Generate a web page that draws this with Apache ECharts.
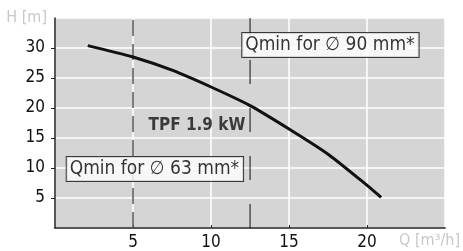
<html>
<head>
<meta charset="UTF-8">
<script src="https://cdn.jsdelivr.net/npm/echarts@6/dist/echarts.min.js"></script>
</head>
<body style="margin:0">
<div id="pumpChart" style="width:463px;height:251px"></div>
<script>
    // pump curve
    var flowQ = [2.1, 5, 7.5, 10, 12.5, 15, 17.5, 20, 20.9];
    var headH = [30.4, 28.5, 26.3, 23.5, 20.4, 16.5, 12.3, 7.1, 5.1];

    // Qmin markers (vertical dashed lines)
    var qmin63 = 5;
    var qmin90 = 12.5;

    // annotation texts and where they sit (data coords)
    var noteTexts = ['Qmin for \u2205 90 mm*', 'Qmin for \u2205 63 mm*'];
    var notePos = [[12.0, 30.5], [0.75, 9.85]];
    var pumpName = 'TPF 1.9 kW';
    var pumpNamePos = [12.2, 17.1];

    var font = "'Liberation Sans Narrow', 'DejaVu Sans Condensed', sans-serif";

    var curve = [];
    for (var i = 0; i < flowQ.length; i++) {
        curve.push([flowQ[i], headH[i]]);
    }

    var chart = echarts.init(document.getElementById('pumpChart'));
    chart.setOption({
        animation: false,
        textStyle: {fontFamily: font},
        grid: {
            left: 55, top: 18, right: 15, bottom: 21.5,
            show: true, backgroundColor: '#d5d5d5', borderWidth: 0
        },
        xAxis: {
            type: 'value', min: 0, max: 25, interval: 5,
            name: 'Q [m\u00b3/h]', nameLocation: 'end', nameGap: -46,
            nameTextStyle: {color: '#c8c8c8', fontSize: 16, fontFamily: font, verticalAlign: 'top', padding: [5, 0, 0, 0]},
            axisLine: {lineStyle: {color: '#222', width: 1.5}},
            axisTick: {inside: true, length: 3, lineStyle: {color: '#222'}},
            axisLabel: {color: '#111', fontSize: 17, margin: 6, showMinLabel: false, showMaxLabel: false},
            splitLine: {show: true, lineStyle: {color: '#fff', width: 1.5}}
        },
        yAxis: {
            type: 'value', min: 0, max: 35, interval: 5,
            name: 'H [m]', nameLocation: 'end', nameGap: -8,
            nameTextStyle: {color: '#c8c8c8', fontSize: 16, fontFamily: font, align: 'right', padding: [0, 8, 0, 0]},
            axisLine: {show: true, lineStyle: {color: '#222', width: 1.5}},
            axisTick: {show: true, length: 4, lineStyle: {color: '#222'}},
            axisLabel: {color: '#111', fontSize: 17, margin: 10, showMinLabel: false, showMaxLabel: false},
            splitLine: {show: true, lineStyle: {color: '#fff', width: 1.5}}
        },
        series: [
            {
                type: 'line', data: [[qmin63, 0], [qmin63, 35]],
                symbol: 'none', z: 3,
                lineStyle: {color: '#555', width: 1.5, type: [16, 8]}
            },
            {
                type: 'line', data: [[qmin90, 0], [qmin90, 35]],
                symbol: 'none', z: 3,
                lineStyle: {color: '#111', width: 1, type: [24, 24]}
            },
            {
                type: 'line', data: curve, smooth: 0.25,
                symbol: 'none', z: 4,
                lineStyle: {color: '#111', width: 3}
            },
            {
                type: 'scatter', symbolSize: 0, z: 6,
                data: notePos,
                label: {
                    show: true, position: 'right', distance: 0,
                    formatter: function (p) { return noteTexts[p.dataIndex]; },
                    color: '#000', fontSize: 19, fontFamily: font,
                    backgroundColor: '#fff', borderColor: '#111', borderWidth: 1,
                    padding: [3, 4, 2, 3]
                }
            },
            {
                type: 'scatter', symbolSize: 0, z: 6,
                data: [pumpNamePos],
                label: {
                    show: true, position: 'left', distance: 0,
                    formatter: pumpName,
                    color: '#111', fontSize: 17, fontWeight: 'bold', fontFamily: font
                }
            }
        ]
    });
</script>
</body>
</html>
